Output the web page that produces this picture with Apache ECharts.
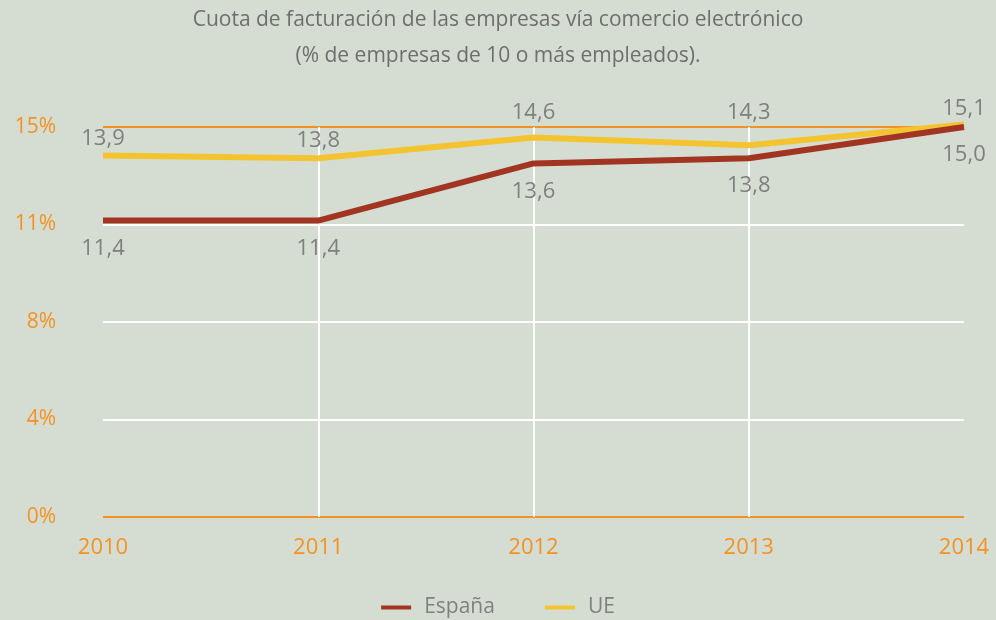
<!DOCTYPE html>
<html>
<head>
<meta charset="utf-8">
<script src="https://cdn.jsdelivr.net/npm/echarts@6/dist/echarts.min.js"></script>
<style>
  html, body { margin: 0; padding: 0; background: #d5ddd2; }
  #picture { width: 996px; height: 620px; }
</style>
</head>
<body>
<div id="picture"></div>
<script>
var years = ['2010', '2011', '2012', '2013', '2014'];
var espana = [11.4, 11.4, 13.6, 13.8, 15.0];
var ue = [13.9, 13.8, 14.6, 14.3, 15.1];

var myChart = echarts.init(document.getElementById('picture'));
var font = '"Open Sans", "Noto Sans", sans-serif';
var yMax = 15;

function fmt(p) {
    return p.value.toFixed(1).replace('.', ',');
}

// UE labels near the top line are lifted above the 15% line, like the original
var pxPerUnit = 390 / yMax;
var ueData = ue.map(function (v) {
    var d = 6;
    if (v >= 14) {
        d = Math.max(5, (yMax - v) * pxPerUnit + 3);
    }
    return { value: v, label: { distance: d } };
});

var option = {
    backgroundColor: '#d5ddd2',
    animation: false,
    title: {
        text: 'Cuota de facturación de las empresas vía comercio electrónico\n(% de empresas de 10 o más empleados).',
        left: 'center',
        top: -3,
        textStyle: {
            color: '#6e6e6e',
            fontFamily: font,
            fontWeight: 'normal',
            fontSize: 21,
            lineHeight: 36
        }
    },
    legend: {
        bottom: -3,
        left: 'center',
        itemWidth: 30,
        itemHeight: 4,
        itemGap: 50,
        icon: 'rect',
        textStyle: { color: '#808080', fontSize: 21, fontFamily: font, padding: [0, 0, 0, 8] },
        data: ['España', 'UE']
    },
    grid: { left: 103, right: 32, top: 127, bottom: 103 },
    xAxis: {
        type: 'category',
        data: years,
        boundaryGap: false,
        axisLine: { show: false },
        axisTick: { show: false },
        axisLabel: { color: '#f39223', fontSize: 22, fontFamily: font, margin: 20 },
        splitLine: {
            show: true,
            interval: function (i) { return i > 0 && i < years.length - 1; },
            lineStyle: { color: '#ffffff', width: 2 }
        }
    },
    yAxis: {
        type: 'value',
        min: 0,
        max: yMax,
        interval: 3.75,
        axisLine: { show: false },
        axisTick: { show: false },
        axisLabel: {
            color: '#f39223',
            fontSize: 21,
            fontFamily: font,
            margin: 47,
            formatter: function (v) { return Math.round(v) + '%'; }
        },
        splitLine: {
            lineStyle: { color: ['#f39223', '#ffffff', '#ffffff', '#ffffff', '#f39223'], width: 2 }
        }
    },
    series: [
        {
            name: 'UE',
            type: 'line',
            data: ueData,
            symbol: 'circle',
            symbolSize: 0,
            clip: false,
            z: 2,
            lineStyle: { color: '#f4c430', width: 6 },
            itemStyle: { color: '#f4c430' },
            label: {
                show: true,
                position: 'top',
                formatter: fmt,
                color: '#7f7f7f',
                fontSize: 22,
                fontFamily: font
            }
        },
        {
            name: 'España',
            type: 'line',
            data: espana,
            symbol: 'circle',
            symbolSize: 0,
            clip: false,
            z: 3,
            lineStyle: { color: '#a23522', width: 6 },
            itemStyle: { color: '#a23522' },
            label: {
                show: true,
                position: 'bottom',
                distance: 17,
                formatter: fmt,
                color: '#7f7f7f',
                fontSize: 22,
                fontFamily: font
            }
        }
    ]
};
myChart.setOption(option);
</script>
</body>
</html>
